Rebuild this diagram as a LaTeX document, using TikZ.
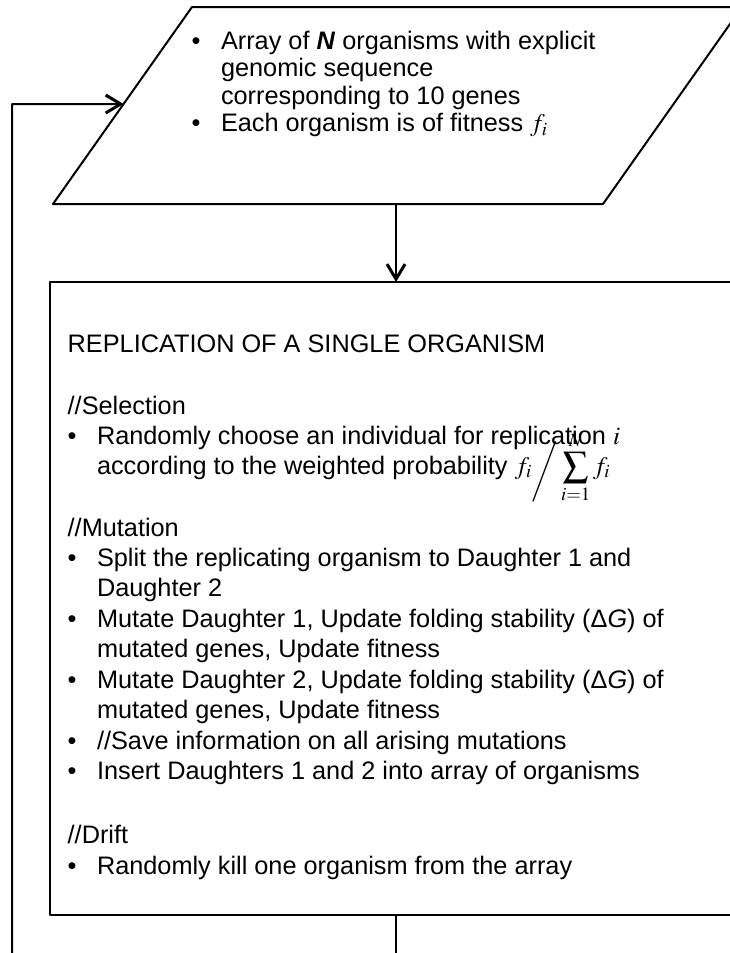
\documentclass[tikz,border=0pt]{standalone}
\usepackage{mathptmx}
\usepackage[no-math]{fontspec}
\setmainfont{Liberation Sans}
\usetikzlibrary{arrows.meta}
\tikzset{
	txt/.style={anchor=base west, inner sep=0pt, font=\fontsize{25.3}{30}\selectfont},
	arr/.style={-{Straight Barb[length=15pt,width=18pt,line width=3pt]}}
}
\begin{document}
\begin{tikzpicture}[x=1pt, y=-1pt, line width=2pt, line join=round]
	\clip (0,0) rectangle (730,953);
	% population (parallelogram)
	\coordinate (A) at (53,204);
	\coordinate (B) at (192,7);
	\coordinate (C) at (742,7);
	\coordinate (D) at (603,204);
	% replication box
	\coordinate (E) at (50,282);
	\coordinate (F) at (770,915);
	% connectors
	\coordinate (P) at (396,204);
	\coordinate (Q) at (396,282);
	\coordinate (R) at (396,915);
	\coordinate (S) at (396,970);
	\coordinate (T) at (12,970);
	\coordinate (U) at (12,104);
	\coordinate (W) at (300,104);
	\coordinate (V) at (intersection of U--W and A--B);
	\draw (A)--(B)--(C)--(D)--cycle;
	\draw (E) rectangle (F);
	\draw[arr] (P)--(Q);
	\draw (R)--(S);
	\draw[arr] (T)--(U)--(V);
	% text of the population
	\foreach \y [count=\k] in {49,131.5} \node[txt] (pb\k) at (190.5,\y) {•};
	\node[txt] (a1) at (220,49) {Array of \textbf{\textit{N}} organisms with explicit};
	\node[txt] (a2) at (220,76.5) {genomic sequence};
	\node[txt] (a3) at (220,104) {corresponding to 10 genes};
	\node[txt] (a4) at (220,131.5) {Each organism is of fitness $f_i$};
	% text of the replication step
	\foreach \y [count=\k] in {444,566,627,688,749,779.5,874} \node[txt] (rb\k) at (66.5,\y) {•};
	\node[txt] (t0) at (66.7,352) {REPLICATION OF A SINGLE ORGANISM};
	\node[txt] (s0) at (66.7,414) {//Selection};
	\node[txt] (s1) at (96,444) {Randomly choose an individual for replication $i$};
	\node[txt] (s2) at (96,474) {according to the weighted probability $f_i\raisebox{-4pt}{$\bigg/$}\displaystyle\sum_{i=1}^{N}f_i$};
	\node[txt] (m0) at (66.7,536) {//Mutation};
	\node[txt] (m1) at (96,566) {Split the replicating organism to Daughter 1 and};
	\node[txt] (m2) at (96,596.5) {Daughter 2};
	\node[txt] (m3) at (96,627) {Mutate Daughter 1, Update folding stability (Δ\textit{G}) of};
	\node[txt] (m4) at (96,657.5) {mutated genes, Update fitness};
	\node[txt] (m5) at (96,688) {Mutate Daughter 2, Update folding stability (Δ\textit{G}) of};
	\node[txt] (m6) at (96,718.5) {mutated genes, Update fitness};
	\node[txt] (m7) at (96,749) {//Save information on all arising mutations};
	\node[txt] (m8) at (96,779.5) {Insert Daughters 1 and 2 into array of organisms};
	\node[txt] (d0) at (66.7,843) {//Drift};
	\node[txt] (d1) at (96,874) {Randomly kill one organism from the array};
\end{tikzpicture}
\end{document}
